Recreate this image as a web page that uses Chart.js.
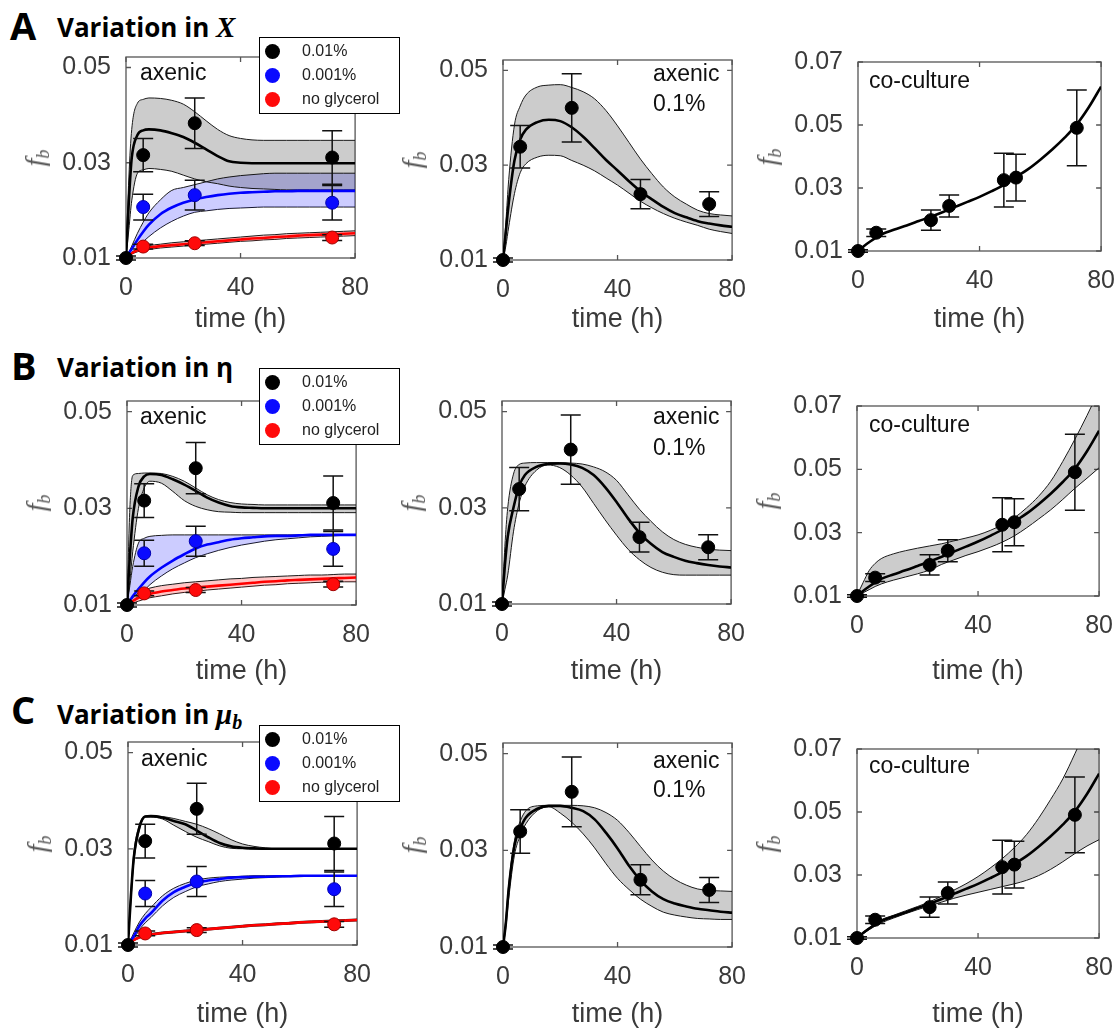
<!DOCTYPE html>
<html>
<head>
<meta charset="utf-8">
<script src="https://cdn.jsdelivr.net/npm/chart.js@4.4.1/dist/chart.umd.min.js"></script>
<style>
  body { margin: 0; background: #fff; }
  #fig { position: relative; width: 1119px; height: 1033px; overflow: hidden; background: #fff; font-family: "Liberation Sans", Arial, sans-serif; }
  #fig canvas { position: absolute; }
  .lbl { position: absolute; white-space: nowrap; line-height: 1; }
  .letter { font-family: "Open Sans", sans-serif; font-weight: 700; font-size: 38px; color: #000; }
  .rtitle { font-family: "Open Sans", sans-serif; font-weight: 700; font-size: 26px; color: #000; }
  .sym { font-family: "Liberation Serif", serif; font-style: italic; font-weight: 700; font-size: 29px; }
  .sym sub { font-size: 20px; vertical-align: -5px; line-height: 0; }
  .ptxt { font-size: 23px; color: #111; }
  .ylab { font-family: "Liberation Serif", serif; font-style: italic; font-size: 28px; color: #555; transform: translate(-50%, -50%) rotate(-90deg); }
  .ylab sub { font-size: 18px; vertical-align: -5px; line-height: 0; }
  .legend { position: absolute; box-sizing: border-box; width: 141px; height: 77px; border: 1.3px solid #000; background: #fff; }
  .legend .dot { position: absolute; left: 5px; width: 15px; height: 15px; border-radius: 50%; }
  .legend .txt { position: absolute; left: 42px; font-size: 16px; color: #222; line-height: 1; }
</style>
</head>
<body>
<div id="fig">
  <div class="lbl letter" style="left:10px;top:6px">A</div>
  <div class="lbl rtitle" style="left:57px;top:13px">Variation in <span class="sym">X</span></div>
  <div class="lbl letter" style="left:11px;top:346px">B</div>
  <div class="lbl rtitle" style="left:57px;top:354px">Variation in η</div>
  <div class="lbl letter" style="left:11px;top:690px">C</div>
  <div class="lbl rtitle" style="left:57px;top:700px">Variation in <span class="sym">μ<sub>b</sub></span></div>
</div>
<script>
// time grid used for every model curve (h)
const T = [0, 1, 2, 4, 6, 8, 12, 16, 20, 24, 28, 32, 36, 40, 44, 48, 52, 56, 60, 64, 68, 72, 76, 80];
const xTicks = [0, 40, 80];
const yTicksAx = [0.01, 0.03, 0.05];
const yTicksCo = [0.01, 0.03, 0.05, 0.07];

// measured points, axenic with 0.01% / 0.001% / no glycerol
const ptT_01 = [0, 6, 24, 72];
const ptY_01 = [0.0100, 0.0316, 0.0383, 0.0311];
const ptE_01 = [0.0004, 0.0035, 0.0053, 0.0056];
const ptT_001 = [6, 24, 72];
const ptY_001 = [0.0207, 0.0232, 0.0216];
const ptE_001 = [0.0027, 0.0031, 0.0036];
const ptT_no = [6, 24, 72];
const ptY_no = [0.0124, 0.0131, 0.0143];
const ptE_no = [0.0005, 0.0005, 0.0006];
// measured points, axenic 0.1%
const ptT_1 = [0, 6, 24, 48, 72];
const ptY_1 = [0.0100, 0.0339, 0.0421, 0.0239, 0.0218];
const ptE_1 = [0.0004, 0.0045, 0.0072, 0.0031, 0.0026];
// measured points, co-culture
const ptT_co = [0, 6, 24, 30, 48, 52, 72];
const ptY_co = [0.0100, 0.0158, 0.0198, 0.0243, 0.0325, 0.0333, 0.0491];
const ptE_co = [0.0004, 0.0012, 0.0032, 0.0035, 0.0085, 0.0074, 0.0120];

// ---- A: variation in X ----
const aBlackHi  = [.010,.027,.037,.0425,.0433,.0436,.0435,.0431,.0423,.0407,.0388,.0370,.0357,.0351,.0348,.0347,.0347,.0347,.0347,.0347,.0347,.0347,.0347,.0347];
const aBlackMid = [.010,.022,.031,.0358,.0368,.0370,.0368,.0362,.0354,.0342,.0328,.0314,.0303,.0300,.0299,.0299,.0299,.0299,.0299,.0299,.0299,.0299,.0299,.0299];
const aBlackLo  = [.010,.016,.022,.0278,.0285,.0288,.0286,.0282,.0274,.0266,.0260,.0256,.0251,.0248,.0246,.0245,.0244,.0243,.0243,.0243,.0243,.0243,.0243,.0243];
const aBlueHi   = [.010,.0112,.0125,.0152,.0175,.0195,.0222,.0242,.0248,.0254,.0260,.0266,.0270,.0273,.0275,.0277,.0278,.0278,.0278,.0278,.0278,.0278,.0278,.0278];
const aBlueMid  = [.010,.0110,.0119,.0138,.0155,.0170,.0192,.0206,.0216,.0223,.0228,.0232,.0235,.0237,.0238,.0239,.0240,.0240,.0241,.0241,.0241,.0241,.0241,.0241];
const aBlueLo   = [.010,.0105,.0110,.0122,.0134,.0145,.0163,.0177,.0188,.0196,.0199,.0202,.0204,.0205,.0206,.0207,.0207,.0207,.0207,.0207,.0207,.0207,.0207,.0207];
const aRedHi    = [.010,.0106,.0112,.0119,.0123,.0126,.0129,.0132,.0134,.0136,.0138,.0140,.0142,.0144,.0146,.0148,.0149,.0151,.0152,.0153,.0154,.0155,.0156,.0157];
const aRedMid   = [.010,.0105,.0110,.0116,.0120,.0122,.0125,.0127,.0129,.0131,.0133,.0135,.0137,.0139,.0141,.0142,.0144,.0145,.0147,.0148,.0149,.0150,.0151,.0152];
const aRedLo    = [.010,.0104,.0108,.0113,.0116,.0118,.0121,.0123,.0125,.0127,.0129,.0131,.0133,.0135,.0136,.0138,.0139,.0141,.0142,.0143,.0144,.0145,.0146,.0147];
const aHighHi   = [.010,.018,.027,.0385,.0425,.0448,.0465,.0469,.0470,.0464,.0455,.0440,.0415,.0383,.0348,.0313,.0282,.0254,.0233,.0218,.0205,.0198,.0195,.0193];
const aHighMid  = [.010,.016,.022,.0310,.0354,.0375,.0391,.0396,.0393,.0380,.0360,.0336,.0311,.0289,.0266,.0245,.0228,.0212,.0199,.0190,.0182,.0177,.0173,.0170];
const aHighLo   = [.010,.013,.017,.0240,.0284,.0303,.0317,.0321,.0320,.0310,.0300,.0288,.0273,.0258,.0241,.0224,.0210,.0198,.0188,.0180,.0173,.0165,.0160,.0156];
const coMid     = [.010,.0108,.0116,.0130,.0143,.0154,.0168,.0181,.0195,.0209,.0224,.0240,.0256,.0272,.0290,.0310,.0335,.0360,.0390,.0423,.0460,.0502,.0557,.0622];

// ---- B: variation in eta ----
const bBlackHi  = [.010,.030,.0368,.0372,.0373,.0373,.0372,.0366,.0356,.0342,.0328,.0318,.0312,.0309,.0308,.0307,.0307,.0307,.0307,.0307,.0307,.0307,.0307,.0307];
const bBlackMid = [.010,.020,.028,.0345,.0366,.0371,.0369,.0360,.0349,.0336,.0322,.0312,.0305,.0302,.0301,.0300,.0300,.0300,.0300,.0300,.0300,.0300,.0300,.0300];
const bBlackLo  = [.010,.015,.021,.0300,.0342,.0356,.0352,.0335,.0316,.0304,.0297,.0293,.0292,.0291,.0291,.0291,.0291,.0291,.0291,.0291,.0291,.0291,.0291,.0291];
const bBlueHi   = [.010,.014,.018,.0228,.0238,.0242,.0244,.0245,.0245,.0245,.0245,.0245,.0245,.0245,.0245,.0245,.0245,.0245,.0245,.0245,.0245,.0245,.0245,.0245];
const bBlueMid  = [.010,.0109,.0118,.0133,.0147,.0159,.0177,.0192,.0205,.0217,.0225,.0230,.0235,.0238,.0240,.0242,.0243,.0243,.0244,.0245,.0245,.0245,.0245,.0245];
const bBlueLo   = [.010,.0104,.0108,.0118,.0130,.0142,.0160,.0175,.0187,.0198,.0206,.0213,.0219,.0224,.0228,.0232,.0235,.0237,.0239,.0241,.0242,.0243,.0244,.0244];
const bRedHi    = [.010,.0108,.0115,.0125,.0131,.0135,.0140,.0143,.0146,.0148,.0150,.0152,.0154,.0155,.0157,.0158,.0159,.0160,.0161,.0162,.0162,.0163,.0164,.0164];
const bRedMid   = [.010,.0104,.0108,.0115,.0120,.0123,.0128,.0131,.0134,.0136,.0138,.0140,.0142,.0144,.0146,.0148,.0149,.0151,.0152,.0153,.0154,.0155,.0156,.0157];
const bRedLo    = [.010,.0102,.0104,.0108,.0112,.0115,.0119,.0123,.0126,.0128,.0131,.0133,.0135,.0137,.0139,.0141,.0142,.0144,.0145,.0146,.0147,.0147,.0148,.0148];
const bHighHi   = [.010,.022,.030,.0370,.0390,.0393,.0394,.0394,.0394,.0393,.0391,.0385,.0375,.0357,.0327,.0297,.0272,.0250,.0234,.0224,.0218,.0214,.0212,.0211];
const bHighMid  = [.010,.018,.024,.0300,.0345,.0368,.0385,.0391,.0392,.0390,.0383,.0368,.0343,.0312,.0278,.0248,.0225,.0208,.0198,.0190,.0185,.0181,.0178,.0176];
const bHighLo   = [.010,.013,.016,.0250,.0310,.0345,.0378,.0389,.0384,.0368,.0343,.0309,.0275,.0243,.0214,.0192,.0176,.0166,.0161,.0160,.0160,.0160,.0160,.0160];
const bCoHi     = [.010,.0122,.0142,.0180,.0203,.0218,.0233,.0243,.0251,.0258,.0265,.0274,.0283,.0293,.0307,.0325,.0347,.0378,.0415,.0462,.0525,.0595,.0670,.0750];
const bCoLo     = [.010,.0105,.0110,.0120,.0130,.0138,.0150,.0160,.0170,.0182,.0200,.0214,.0228,.0240,.0254,.0270,.0290,.0315,.0343,.0372,.0405,.0440,.0472,.0505];

// ---- C: variation in mu_b ----
const cBlackHi  = [.010,.021,.029,.0350,.0368,.0369,.0367,.0363,.0357,.0351,.0342,.0331,.0319,.0310,.0305,.0302,.0300,.0300,.0300,.0300,.0300,.0300,.0300,.0300];
const cBlackMid = [.010,.020,.028,.0345,.0367,.0368,.0365,.0358,.0351,.0338,.0324,.0312,.0305,.0302,.0301,.0300,.0300,.0300,.0300,.0300,.0300,.0300,.0300,.0300];
const cBlackLo  = [.010,.019,.027,.0340,.0366,.0366,.0362,.0349,.0336,.0324,.0315,.0306,.0301,.0300,.0299,.0299,.0299,.0299,.0299,.0299,.0299,.0299,.0299,.0299];
const cBlueHi   = [.010,.0112,.0125,.0148,.0165,.0178,.0202,.0218,.0228,.0235,.0239,.0241,.0242,.0243,.0244,.0244,.0244,.0244,.0244,.0244,.0244,.0244,.0244,.0244];
const cBlueMid  = [.010,.0109,.0118,.0140,.0155,.0166,.0192,.0210,.0221,.0230,.0234,.0237,.0240,.0241,.0242,.0242,.0243,.0243,.0244,.0244,.0244,.0244,.0244,.0244];
const cBlueLo   = [.010,.0106,.0112,.0132,.0146,.0157,.0181,.0199,.0211,.0221,.0227,.0232,.0235,.0237,.0239,.0240,.0241,.0242,.0242,.0243,.0243,.0244,.0244,.0244];
const cRedHi    = [.010,.0106,.0111,.0118,.0122,.0124,.0127,.0129,.0131,.0133,.0135,.0137,.0139,.0141,.0143,.0144,.0146,.0147,.0149,.0150,.0151,.0152,.0153,.0154];
const cRedLo    = [.010,.0104,.0109,.0114,.0118,.0120,.0123,.0125,.0127,.0129,.0131,.0133,.0135,.0137,.0139,.0140,.0142,.0143,.0145,.0146,.0147,.0148,.0149,.0150];
const cHighHi   = [.010,.016,.023,.0320,.0360,.0382,.0392,.0393,.0393,.0393,.0392,.0388,.0378,.0362,.0337,.0308,.0280,.0257,.0240,.0228,.0220,.0217,.0216,.0215];
const cHighMid  = [.010,.015,.022,.0310,.0345,.0368,.0386,.0392,.0392,.0388,.0381,.0364,.0336,.0304,.0268,.0238,.0215,.0199,.0190,.0184,.0179,.0176,.0173,.0171];
const cHighLo   = [.010,.014,.020,.0290,.0330,.0355,.0382,.0390,.0377,.0358,.0334,.0305,.0272,.0242,.0219,.0199,.0184,.0172,.0166,.0162,.0159,.0158,.0157,.0157];
const cCoHi     = [.010,.0109,.0118,.0132,.0146,.0158,.0172,.0186,.0200,.0215,.0233,.0252,.0272,.0295,.0322,.0352,.0387,.0428,.0480,.0540,.0605,.0685,.0770,.0860];
const cCoLo     = [.010,.0107,.0113,.0126,.0138,.0148,.0163,.0177,.0190,.0202,.0214,.0226,.0236,.0245,.0254,.0263,.0272,.0283,.0298,.0318,.0342,.0368,.0392,.0412];

const legendLabels = ["0.01%", "0.001%", "no glycerol"];

const INK = "#3a3a3a";
const GREY = "rgba(0,0,0,0.2)";
const LAV = "rgba(0,0,255,0.2)";
const PINK = "rgba(255,0,0,0.22)";
const fig = document.getElementById("fig");

function xy(xs, ys) {
  return xs.map((x, i) => ({ x: x, y: ys[i] }));
}

function curve(vals, color, width, order) {
  return {
    data: xy(T, vals),
    borderColor: color,
    borderWidth: width,
    backgroundColor: "transparent",
    pointRadius: 0,
    fill: false,
    cubicInterpolationMode: "monotone",
    order: order
  };
}

function band(hi, lo, tint, order) {
  const top = curve(hi, "#1a1a1a", 1, order);
  top.fill = "+1";
  top.backgroundColor = tint;
  const bottom = curve(lo, "#1a1a1a", 1, order);
  return [top, bottom];
}

function dots(tt, yy, ee, color, edge, order) {
  return {
    data: xy(tt, yy),
    errors: ee,
    showLine: false,
    pointRadius: 6.5,
    pointBackgroundColor: color,
    pointBorderColor: edge,
    pointBorderWidth: 1,
    borderColor: color,
    clip: false,
    order: order
  };
}

// box with inward tick marks, like the MATLAB axes
const framePlugin = {
  id: "frame",
  beforeDatasetsDraw(chart) {
    const { ctx, chartArea: a, scales } = chart;
    ctx.save();
    ctx.strokeStyle = "#555";
    ctx.lineWidth = 1.3;
    ctx.strokeRect(a.left, a.top, a.right - a.left, a.bottom - a.top);
    ctx.beginPath();
    scales.x.ticks.forEach(t => {
      const p = scales.x.getPixelForValue(t.value);
      ctx.moveTo(p, a.bottom); ctx.lineTo(p, a.bottom - 5);
      ctx.moveTo(p, a.top); ctx.lineTo(p, a.top + 5);
    });
    scales.y.ticks.forEach(t => {
      const p = scales.y.getPixelForValue(t.value);
      ctx.moveTo(a.left, p); ctx.lineTo(a.left + 5, p);
      ctx.moveTo(a.right, p); ctx.lineTo(a.right - 5, p);
    });
    ctx.stroke();
    ctx.restore();
  }
};

const errorBarPlugin = {
  id: "errbars",
  beforeDatasetDraw(chart, args) {
    const ds = chart.data.datasets[args.index];
    if (!ds.errors) return;
    const { ctx, scales: { x, y } } = chart;
    const cap = 10;
    ctx.save();
    ctx.strokeStyle = "#111";
    ctx.lineWidth = 1.5;
    ctx.beginPath();
    ds.data.forEach((p, i) => {
      const px = x.getPixelForValue(p.x);
      const lo = y.getPixelForValue(p.y - ds.errors[i]);
      const hi = y.getPixelForValue(p.y + ds.errors[i]);
      ctx.moveTo(px, lo); ctx.lineTo(px, hi);
      ctx.moveTo(px - cap, lo); ctx.lineTo(px + cap, lo);
      ctx.moveTo(px - cap, hi); ctx.lineTo(px + cap, hi);
    });
    ctx.stroke();
    ctx.restore();
  }
};

function addText(html, cls, left, top) {
  const el = document.createElement("div");
  el.className = "lbl " + cls;
  el.style.left = left + "px";
  el.style.top = top + "px";
  el.innerHTML = html;
  fig.appendChild(el);
  return el;
}

function panelConfig(yMax, yTicks, axisH, datasets) {
  return {
    type: "line",
    data: { datasets: datasets },
    options: {
      responsive: false,
      animation: false,
      layout: { padding: 0 },
      plugins: { legend: { display: false }, tooltip: { enabled: false } },
      scales: {
        x: {
          type: "linear",
          min: 0,
          max: 80,
          afterBuildTicks: s => { s.ticks = xTicks.map(v => ({ value: v })); },
          afterFit: s => { s.height = axisH; },
          grid: { display: false, drawTicks: false },
          border: { display: false },
          ticks: { padding: 15, color: INK, font: { family: "Liberation Sans", size: 25 } },
          title: { display: true, text: "time (h)", color: INK, padding: 0, font: { family: "Liberation Sans", size: 27 } }
        },
        y: {
          type: "linear",
          min: 0.01,
          max: yMax,
          afterBuildTicks: s => { s.ticks = yTicks.map(v => ({ value: v })); },
          afterFit: s => { s.width = 100; },
          grid: { display: false, drawTicks: false },
          border: { display: false },
          ticks: { padding: 15, color: INK, font: { family: "Liberation Sans", size: 25 }, callback: v => v.toFixed(2) }
        }
      }
    },
    plugins: [framePlugin, errorBarPlugin]
  };
}

// the plot box of each panel is fitted to the reference: a first pass measures
// how much room Chart.js keeps round the chart area, the second pass corrects for it
function makePanel(box, yMax, yTicks, titleMid, buildSets) {
  const axisH = Math.round(titleMid + 16 - box.b);
  const cv = document.createElement("canvas");
  const w = box.r - box.l + 130;
  const h = box.b - box.t + 30 + axisH;
  cv.width = w;
  cv.height = h;
  fig.appendChild(cv);

  let chart = new Chart(cv, panelConfig(yMax, yTicks, axisH, buildSets()));
  let a = chart.chartArea;
  const dw = (box.r - box.l) - (a.right - a.left);
  const dh = (box.b - box.t) - (a.bottom - a.top);
  chart.destroy();

  cv.width = w + dw;
  cv.height = h + dh;
  chart = new Chart(cv, panelConfig(yMax, yTicks, axisH, buildSets()));
  a = chart.chartArea;
  cv.style.left = (box.l - a.left) + "px";
  cv.style.top = (box.t - a.top) + "px";

  addText("<i>f</i><sub>b</sub>", "ylab", box.l - 91, (box.t + box.b) / 2);
  return chart;
}

function axenicSet(blackHi, blackMid, blackLo, blueHi, blueMid, blueLo, redHi, redMid, redLo) {
  return () => [
    dots(ptT_01, ptY_01, ptE_01, "#000", "#000", 0),
    dots(ptT_001, ptY_001, ptE_001, "#0a0aff", "#0000b0", 1),
    dots(ptT_no, ptY_no, ptE_no, "#ff0a0a", "#a00000", 2),
    curve(blackMid, "#000", 2.6, 5),
    curve(blueMid, "#0000ff", 2.6, 6),
    curve(redMid, "#ff0000", 2.6, 7),
    ...band(blackHi, blackLo, GREY, 20),
    ...band(redHi, redLo, PINK, 25),
    ...band(blueHi, blueLo, LAV, 30)
  ];
}

function highSet(hi, mid, lo) {
  return () => [
    dots(ptT_1, ptY_1, ptE_1, "#000", "#000", 0),
    curve(mid, "#000", 2.6, 5),
    ...band(hi, lo, GREY, 20)
  ];
}

function coSet(hi, lo) {
  return () => {
    const ds = [
      dots(ptT_co, ptY_co, ptE_co, "#000", "#000", 0),
      curve(coMid, "#000", 2.6, 5)
    ];
    if (hi) ds.push(...band(hi, lo, GREY, 20));
    return ds;
  };
}

function addLegend(left, top) {
  const box = document.createElement("div");
  box.className = "legend";
  box.style.left = left + "px";
  box.style.top = top + "px";
  const colors = ["#000", "#0a0aff", "#ff0a0a"];
  legendLabels.forEach((txt, i) => {
    const cy = 13 + i * 24;
    const d = document.createElement("div");
    d.className = "dot";
    d.style.top = (cy - 7.5) + "px";
    d.style.background = colors[i];
    box.appendChild(d);
    const t = document.createElement("div");
    t.className = "txt";
    t.style.top = (cy - 8) + "px";
    t.textContent = txt;
    box.appendChild(t);
  });
  fig.appendChild(box);
}

// row A
makePanel({ l: 126, t: 57, r: 356, b: 258 }, 0.0522, yTicksAx, 320,
  axenicSet(aBlackHi, aBlackMid, aBlackLo, aBlueHi, aBlueMid, aBlueLo, aRedHi, aRedMid, aRedLo));
makePanel({ l: 503, t: 60, r: 733, b: 260 }, 0.0522, yTicksAx, 320, highSet(aHighHi, aHighMid, aHighLo));
makePanel({ l: 858, t: 62, r: 1102, b: 251 }, 0.07, yTicksCo, 320, coSet(null, null));

// row B
makePanel({ l: 127, t: 401, r: 357, b: 605 }, 0.0522, yTicksAx, 672,
  axenicSet(bBlackHi, bBlackMid, bBlackLo, bBlueHi, bBlueMid, bBlueLo, bRedHi, bRedMid, bRedLo));
makePanel({ l: 502, t: 401, r: 732, b: 604 }, 0.0522, yTicksAx, 672, highSet(bHighHi, bHighMid, bHighLo));
makePanel({ l: 857, t: 406, r: 1100, b: 596 }, 0.07, yTicksCo, 672, coSet(bCoHi, bCoLo));

// row C
makePanel({ l: 128, t: 742, r: 358, b: 945 }, 0.0522, yTicksAx, 1015,
  axenicSet(cBlackHi, cBlackMid, cBlackLo, cBlueHi, cBlueMid, cBlueLo, cRedHi, aRedMid, cRedLo));
makePanel({ l: 503, t: 743, r: 733, b: 947 }, 0.0522, yTicksAx, 1015, highSet(cHighHi, cHighMid, cHighLo));
makePanel({ l: 857, t: 749, r: 1100, b: 938 }, 0.07, yTicksCo, 1015, coSet(cCoHi, cCoLo));

// labels inside the axes
addText("axenic", "ptxt", 140, 61);
addText("axenic", "ptxt", 653, 62);
addText("0.1%", "ptxt", 653, 92);
addText("co-culture", "ptxt", 869, 69);
addText("axenic", "ptxt", 140, 405);
addText("axenic", "ptxt", 653, 405);
addText("0.1%", "ptxt", 653, 436);
addText("co-culture", "ptxt", 869, 413);
addText("axenic", "ptxt", 141, 747);
addText("axenic", "ptxt", 653, 749);
addText("0.1%", "ptxt", 653, 778);
addText("co-culture", "ptxt", 869, 754);

addLegend(259, 37);
addLegend(259, 368);
addLegend(259, 725);
</script>
</body>
</html>
